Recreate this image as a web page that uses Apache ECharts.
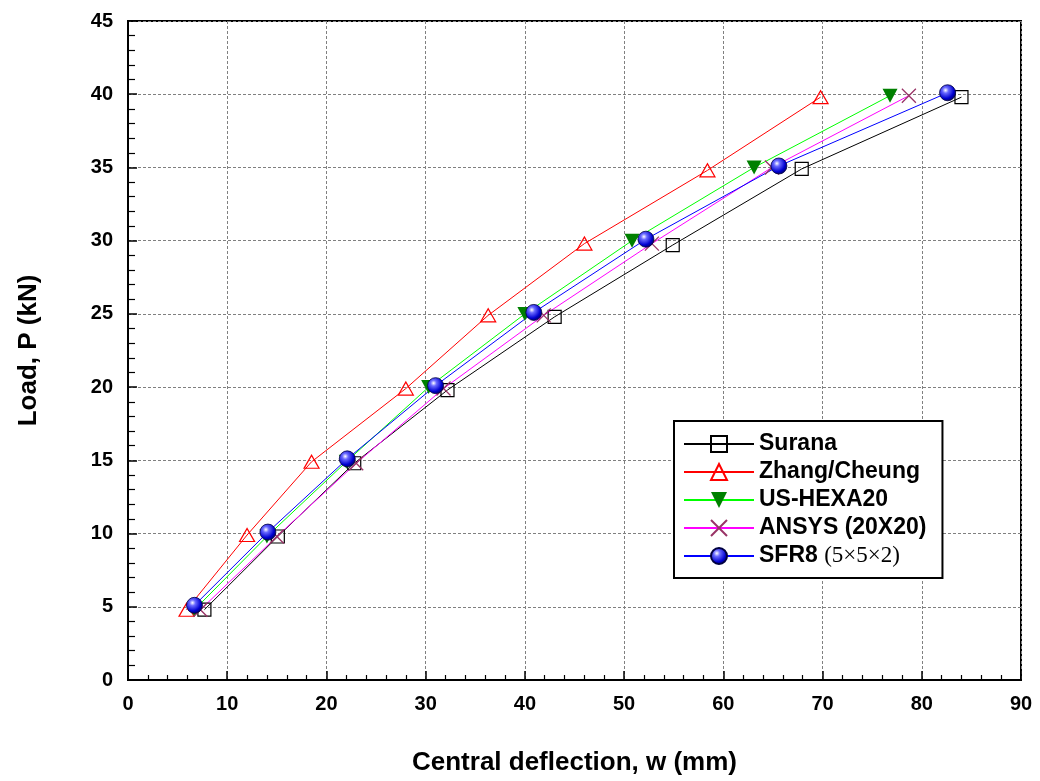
<!DOCTYPE html>
<html>
<head>
<meta charset="utf-8">
<script src="https://cdn.jsdelivr.net/npm/echarts@6/dist/echarts.min.js"></script>
<style>html,body{margin:0;padding:0;background:#fff}#c{width:1040px;height:781px}</style>
</head>
<body>
<div id="c"></div>
<script>
var seriesNames = ['Surana', 'Zhang/Cheung', 'US-HEXA20', 'ANSYS (20X20)', 'SFR8 (5\u00d75\u00d72)'];
var xTicks = [0, 10, 20, 30, 40, 50, 60, 70, 80, 90];
var yTicks = [0, 5, 10, 15, 20, 25, 30, 35, 40, 45];

var suranaX = [7.7, 15.1, 22.8, 32.2, 43.0, 54.9, 67.9, 84.0];
var suranaY = [4.8, 9.8, 14.8, 19.8, 24.8, 29.7, 34.9, 39.8];
var zhangX = [5.9, 12.0, 18.5, 28.0, 36.3, 46.0, 58.4, 69.8];
var zhangY = [4.8, 9.9, 14.9, 19.9, 24.9, 29.8, 34.8, 39.8];
var usX = [6.7, 14.0, 22.0, 30.3, 40.0, 50.8, 63.1, 76.8];
var usY = [4.8, 9.8, 14.9, 20.0, 25.0, 30.0, 35.0, 39.9];
var ansysX = [7.3, 15.0, 23.0, 31.8, 41.9, 52.8, 64.9, 78.7];
var ansysY = [4.8, 9.8, 14.8, 19.9, 24.9, 29.8, 35.0, 39.9];
var sfr8X = [6.7, 14.1, 22.1, 31.0, 40.9, 52.2, 65.6, 82.6];
var sfr8Y = [5.1, 10.1, 15.1, 20.1, 25.1, 30.1, 35.1, 40.1];

function pairs(xs, ys) { return xs.map(function (x, i) { return [x, ys[i]]; }); }

var FONT = '"Liberation Sans", Arial, sans-serif';
var chart = echarts.init(document.getElementById('c'), null, { renderer: 'canvas' });

var downTri = 'path://M0,0 L10,0 L5,9 Z';
var cross = 'path://M0,0 L10,10 M10,0 L0,10';
var ball = {
  type: 'radial', x: 0.38, y: 0.35, r: 0.7,
  colorStops: [{ offset: 0, color: '#ffffff' }, { offset: 0.25, color: '#6a6aff' }, { offset: 0.7, color: '#0000d0' }, { offset: 1, color: '#00005a' }]
};

var option = {
  backgroundColor: '#ffffff',
  animation: false,
  grid: { left: 128, right: 19, top: 21, bottom: 100, show: true, borderColor: '#000', borderWidth: 2, backgroundColor: 'transparent' },
  legend: {
    left: 674, top: 421, orient: 'vertical',
    backgroundColor: '#fff', borderColor: '#000', borderWidth: 2,
    padding: [11, 16, 10, 9],
    itemWidth: 70, itemHeight: 20, itemGap: 4,
    textStyle: {
      fontFamily: FONT, fontWeight: 'bold', fontSize: 23, color: '#000', lineHeight: 24,
      rich: {
        b: { fontFamily: FONT, fontWeight: 'bold', fontSize: 23, color: '#000', lineHeight: 24 },
        s: { fontFamily: '"Liberation Serif", "Times New Roman", serif', fontWeight: 'normal', fontSize: 23, color: '#000', lineHeight: 24 }
      }
    },
    formatter: function (name) {
      if (name === seriesNames[4]) return '{b|SFR8} {s|(5\u00d75\u00d72)}';
      return name;
    },
    data: seriesNames
  },
  xAxis: {
    type: 'value', min: 0, max: 90, interval: 10,
    name: 'Central deflection, w (mm)', nameLocation: 'middle', nameGap: 70,
    nameTextStyle: { fontFamily: FONT, fontWeight: 'bold', fontSize: 26, color: '#000' },
    axisLine: { show: true, onZero: false, lineStyle: { color: '#000', width: 2 } },
    axisTick: { show: true, inside: true, length: 9, lineStyle: { color: '#000', width: 1.5 } },
    minorTick: { show: true, splitNumber: 5, length: 5, lineStyle: { color: '#000', width: 1.2 } },
    axisLabel: { margin: 14, fontFamily: FONT, fontWeight: 'bold', fontSize: 20, color: '#000',
      formatter: function (v) { return xTicks.indexOf(v) >= 0 ? String(v) : ''; } },
    splitLine: { show: true, lineStyle: { color: '#808080', width: 1, type: [3, 2] } }
  },
  yAxis: {
    type: 'value', min: 0, max: 45, interval: 5,
    name: 'Load, P (kN)', nameLocation: 'middle', nameGap: 86, nameRotate: 90,
    nameTextStyle: { fontFamily: FONT, fontWeight: 'bold', fontSize: 26, color: '#000' },
    axisLine: { show: true, onZero: false, lineStyle: { color: '#000', width: 2 } },
    axisTick: { show: true, inside: true, length: 9, lineStyle: { color: '#000', width: 1.5 } },
    minorTick: { show: true, splitNumber: 5, length: 7, lineStyle: { color: '#000', width: 1.2 } },
    axisLabel: { margin: 15, fontFamily: FONT, fontWeight: 'bold', fontSize: 20, color: '#000',
      formatter: function (v) { return yTicks.indexOf(v) >= 0 ? String(v) : ''; } },
    splitLine: { show: true, lineStyle: { color: '#808080', width: 1, type: [3, 2] } }
  },
  series: [
    { name: seriesNames[0], type: 'line', data: pairs(suranaX, suranaY),
      lineStyle: { color: '#000', width: 1 }, symbol: 'rect', symbolSize: 13,
      itemStyle: { color: 'rgba(255,255,255,0)', borderColor: '#000', borderWidth: 1.2 } },
    { name: seriesNames[1], type: 'line', data: pairs(zhangX, zhangY),
      lineStyle: { color: '#ff0000', width: 1 }, symbol: 'triangle', symbolSize: [15, 13],
      itemStyle: { color: 'rgba(255,255,255,0)', borderColor: '#ff0000', borderWidth: 1.2 } },
    { name: seriesNames[2], type: 'line', data: pairs(usX, usY),
      lineStyle: { color: '#00ff00', width: 1 }, symbol: downTri, symbolSize: [15, 14],
      itemStyle: { color: '#008000', borderColor: '#008000', borderWidth: 0 } },
    { name: seriesNames[3], type: 'line', data: pairs(ansysX, ansysY),
      lineStyle: { color: '#ff00ff', width: 1 }, symbol: cross, symbolSize: 14,
      itemStyle: { color: 'none', borderColor: '#993366', borderWidth: 1.3 } },
    { name: seriesNames[4], type: 'line', data: pairs(sfr8X, sfr8Y),
      lineStyle: { color: '#0000ff', width: 1 }, symbol: 'circle', symbolSize: 16,
      itemStyle: { color: ball, borderColor: '#000040', borderWidth: 0.8 } }
  ]
};
chart.setOption(option);
</script>
</body>
</html>
